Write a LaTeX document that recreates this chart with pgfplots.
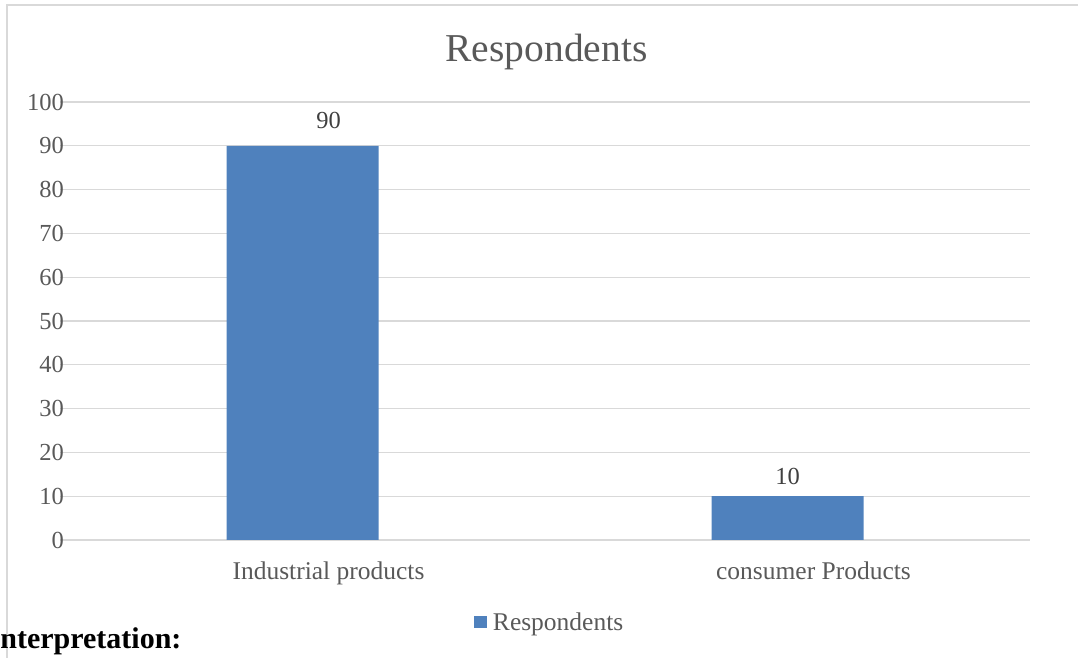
\documentclass[border=0pt]{standalone}
\usepackage{pgfplots}
\pgfplotsset{compat=1.18}
\usepackage{fontspec}
\setmainfont{Liberation Serif}
\definecolor{barblue}{HTML}{4F81BD}
\definecolor{gridgray}{HTML}{D9D9D9}
\definecolor{txtgray}{HTML}{595959}
\definecolor{lblgray}{HTML}{404040}
\begin{document}
\begin{tikzpicture}
\useasboundingbox (0,0) rectangle (1078bp,658bp);
\draw[gridgray, line width=1.3bp] (7bp,-20bp) -- (7bp,653bp) -- (1100bp,653bp);
\begin{axis}[
  at={(60bp,118bp)}, anchor=south west,
  scale only axis, width=970bp, height=438bp,
  xmin=-0.5, xmax=1.5, ymin=0, ymax=100,
  ytick={0,10,...,100},
  xtick={0,1}, xticklabels={Industrial products, consumer Products},
  axis line style={draw=none},
  major tick style={draw=none},
  ymajorgrids, grid style={gridgray, line width=1.3bp},
  /pgf/number format/assume math mode=true,
  ticklabel style={text=txtgray},
  yticklabel style={anchor=east, inner sep=0pt, xshift=4bp, font=\fontsize{24.5bp}{29bp}\selectfont},
  xticklabel style={anchor=base, inner sep=0pt, yshift=-40bp, xshift=26bp, font=\fontsize{25.5bp}{30bp}\selectfont},
  legend style={at={(axis description cs:0.505,0)}, anchor=center, yshift=-82bp, draw=none, fill=none,
    font=\fontsize{25.5bp}{30bp}\selectfont, text=txtgray},
  legend image code/.code={\fill[barblue] (0bp,-6.2bp) rectangle (12.6bp,6.4bp);},
]
\addplot[ybar, bar width=152bp, fill=barblue, draw=none,
  nodes near coords,
  visualization depends on={\thisrow{sx} \as \sx},
  visualization depends on={\thisrow{sy} \as \sy},
  nodes near coords style={anchor=base, inner sep=0pt, xshift=\sx bp, yshift=\sy bp, text=lblgray,
    font=\fontsize{24.5bp}{29bp}\selectfont}]
 table {
 x y sx sy
 0 90 26 17
 1 10 0 12
 };
\addlegendentry{\hspace{4bp}Respondents}
\end{axis}
\node[anchor=base, text=txtgray, font=\fontsize{39.5bp}{46bp}\selectfont] at (546.5bp,596bp) {Respondents};
\node[anchor=base west, inner sep=0pt, font=\bfseries\fontsize{30bp}{36bp}\selectfont] at (-11.5bp,10bp) {Interpretation:};
\end{tikzpicture}
\end{document}
